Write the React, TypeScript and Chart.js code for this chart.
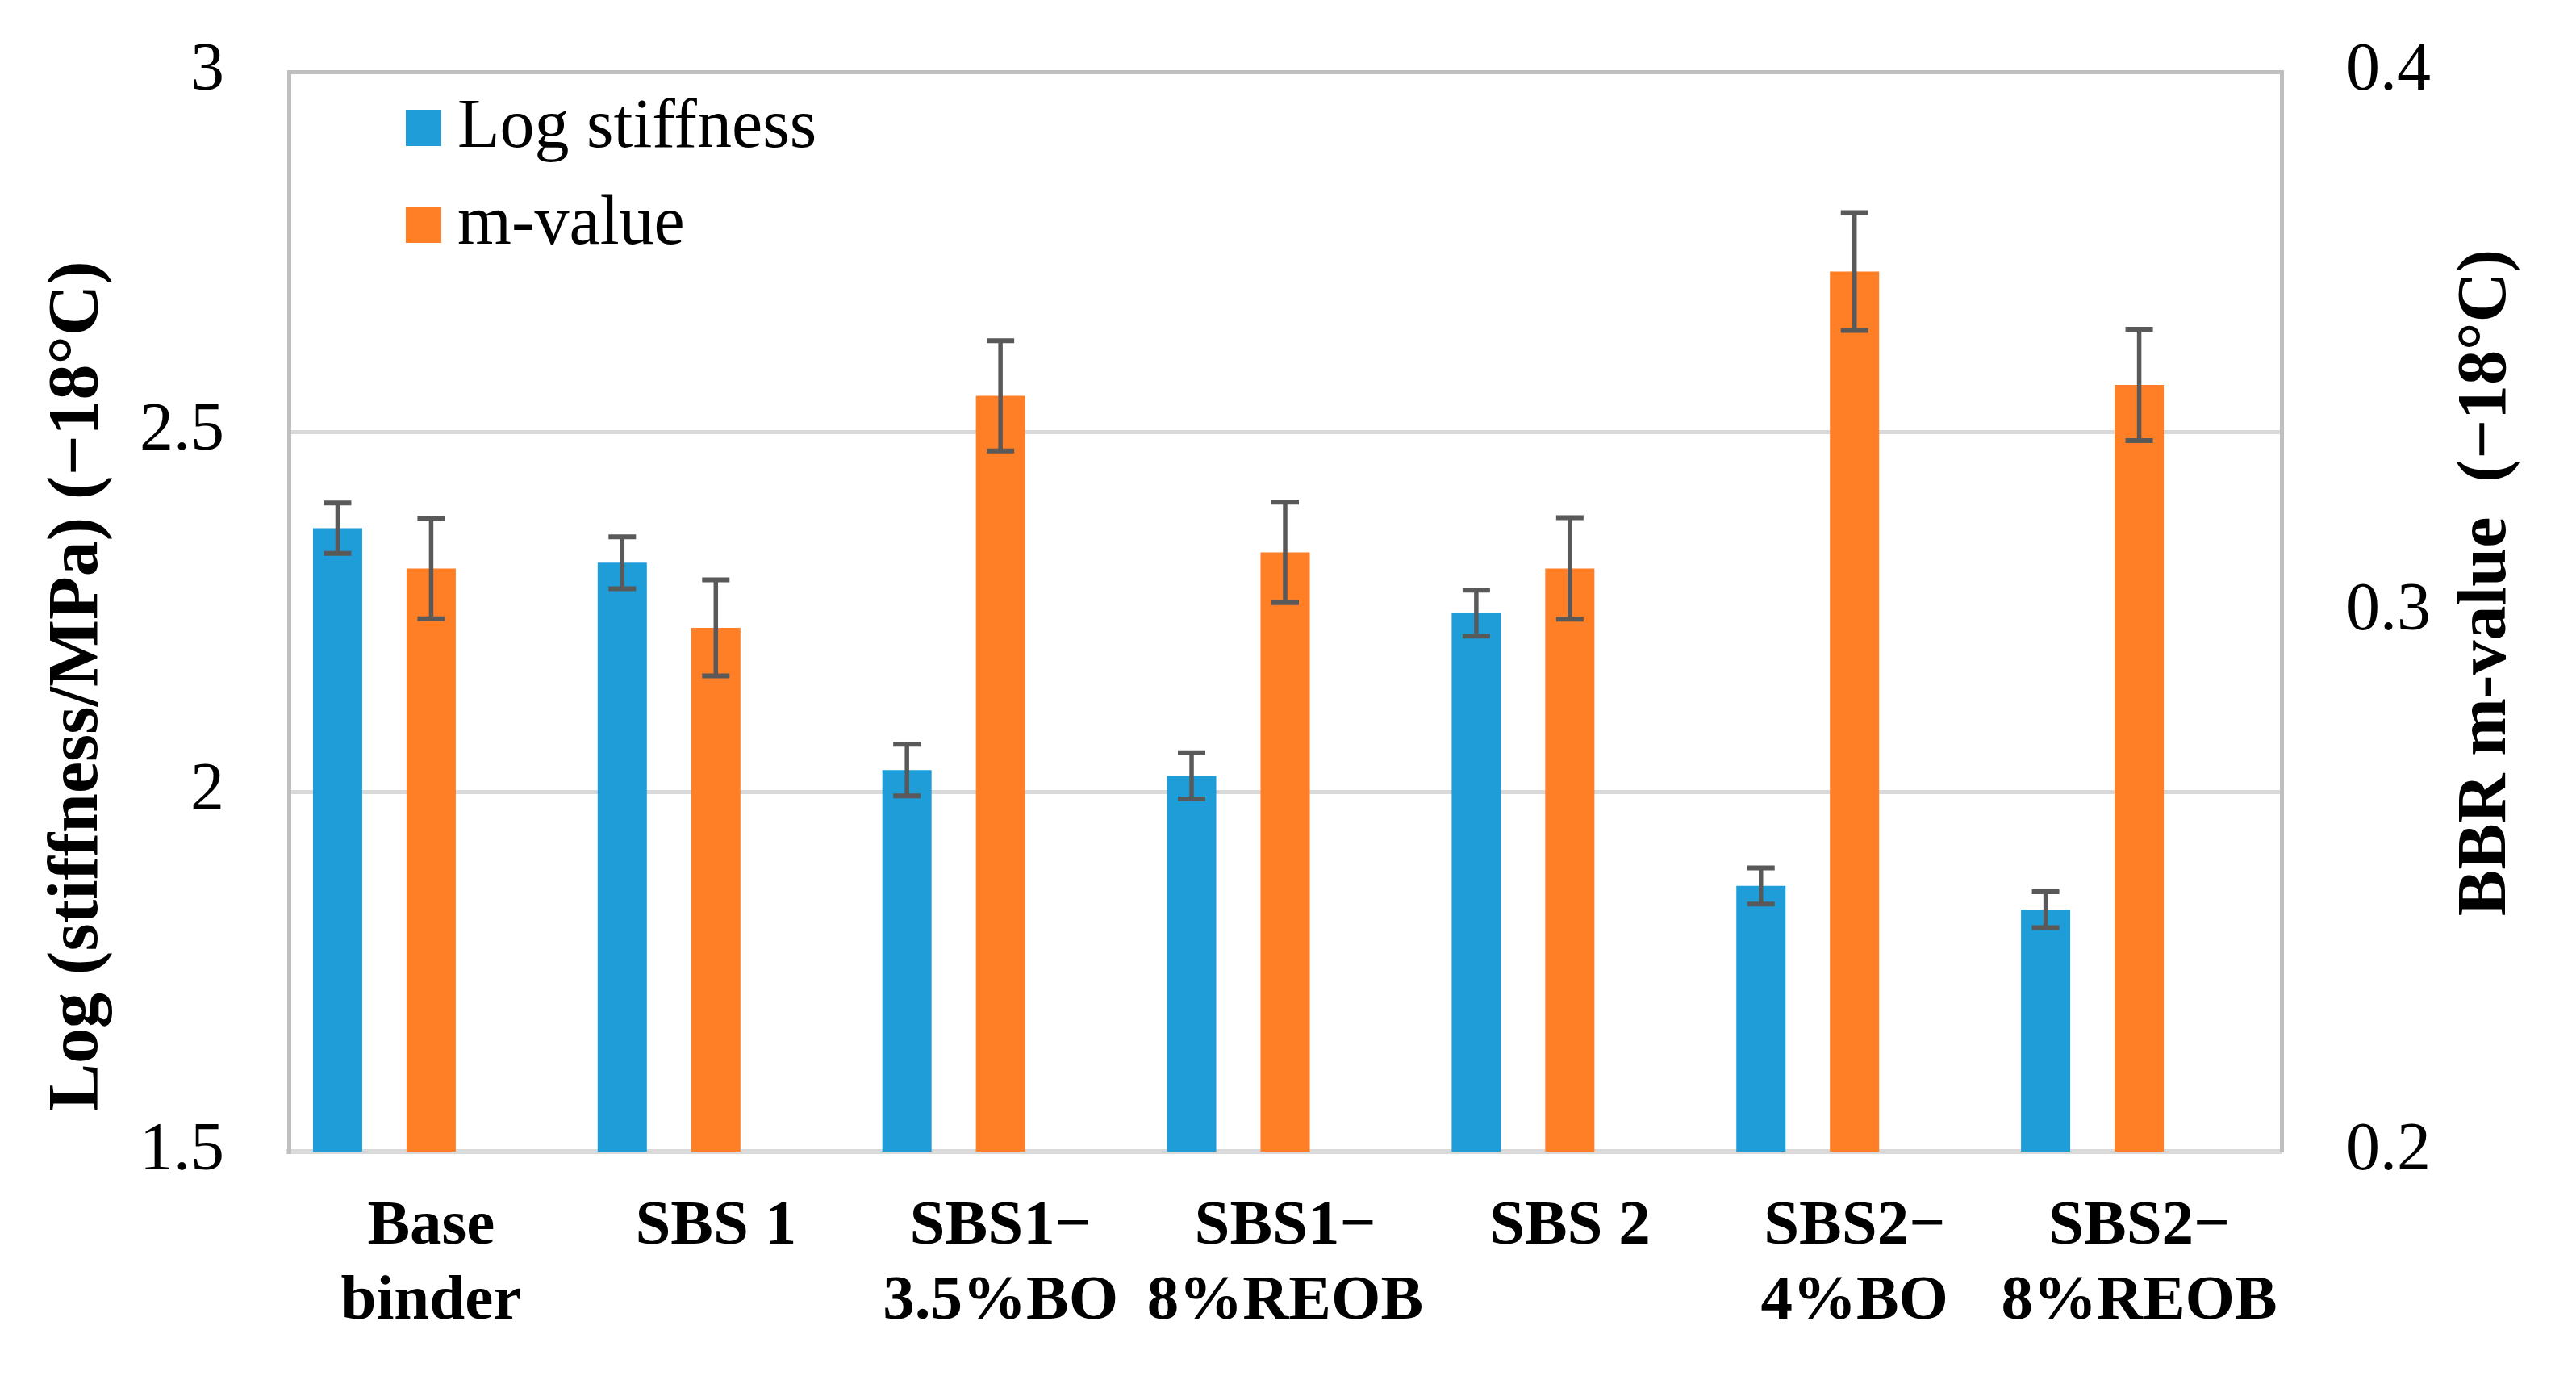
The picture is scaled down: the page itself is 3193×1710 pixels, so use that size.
import React, { useEffect, useRef } from 'react';
import { Chart, registerables } from 'chart.js';

Chart.register(...registerables);

const FONT = "'Liberation Serif', 'Times New Roman', serif";

const categories: string[][] = [
  ['Base', 'binder'],
  ['SBS 1'],
  ['SBS1−', '3.5%BO'],
  ['SBS1−', '8%REOB'],
  ['SBS 2'],
  ['SBS2−', '4%BO'],
  ['SBS2−', '8%REOB'],
];
const seriesLabels = ['Log stiffness', 'm-value'];
const logStiffness = [2.366, 2.318, 2.03, 2.022, 2.248, 1.869, 1.836];
const logStiffnessError = [0.035, 0.036, 0.036, 0.032, 0.032, 0.025, 0.025];
const mValue = [0.308, 0.297, 0.340, 0.311, 0.308, 0.363, 0.342];
const mValueError = [0.0093, 0.0089, 0.0102, 0.0093, 0.0094, 0.0109, 0.0103];
const emptySeries = [null, null, null, null, null, null, null];
const leftTicks = [1.5, 2, 2.5, 3];
const rightTicks = [0.2, 0.3, 0.4];
const leftTitle = 'Log (stiffness/MPa) (−18°C)';
const rightTitle = 'BBR m-value  (−18°C)';

const BLUE = '#1E9DD8';
const ORANGE = '#FF7F27';

const errorBarPlugin = {
  id: 'errorBars',
  afterDatasetsDraw(chart: any) {
    const ctx = chart.ctx;
    chart.data.datasets.forEach((ds: any, di: number) => {
      const errs = ds.errors;
      if (!errs) return;
      const meta = chart.getDatasetMeta(di);
      const scale = chart.scales[meta.yAxisID];
      meta.data.forEach((bar: any, i: number) => {
        const v = ds.data[i];
        const e = errs[i];
        if (v == null || e == null) return;
        const x = bar.x;
        const yTop = scale.getPixelForValue(v + e);
        const yBot = scale.getPixelForValue(v - e);
        ctx.save();
        ctx.strokeStyle = '#595959';
        ctx.lineWidth = 5.5;
        ctx.beginPath();
        ctx.moveTo(x, yTop);
        ctx.lineTo(x, yBot);
        ctx.stroke();
        ctx.lineWidth = 6;
        ctx.beginPath();
        ctx.moveTo(x - 17, yTop);
        ctx.lineTo(x + 17, yTop);
        ctx.moveTo(x - 17, yBot);
        ctx.lineTo(x + 17, yBot);
        ctx.stroke();
        ctx.restore();
      });
    });
  },
};

const legendPlugin = {
  id: 'insideLegend',
  afterDraw(chart: any) {
    const ctx = chart.ctx;
    const a = chart.chartArea;
    let row = 0;
    chart.data.datasets.forEach((ds: any) => {
      if (!ds.label) return;
      const top = a.top + 47 + row * 120;
      ctx.save();
      ctx.fillStyle = ds.backgroundColor;
      ctx.fillRect(a.left + 145, top, 44, 45);
      ctx.fillStyle = '#000';
      ctx.font = `86px ${FONT}`;
      ctx.textBaseline = 'middle';
      ctx.textAlign = 'left';
      ctx.fillText(ds.label, a.left + 209, top + 23);
      ctx.restore();
      row++;
    });
  },
};

const axisTitlePlugin = {
  id: 'axisTitles',
  afterDraw(chart: any) {
    const ctx = chart.ctx;
    const draw = (text: string, x: number, y: number, size: number) => {
      ctx.save();
      ctx.translate(x, y);
      ctx.rotate(-Math.PI / 2);
      ctx.fillStyle = '#000';
      ctx.font = `bold ${size}px ${FONT}`;
      ctx.textAlign = 'center';
      ctx.textBaseline = 'middle';
      ctx.fillText(text, 0, 0);
      ctx.restore();
    };
    draw(leftTitle, 97, 850, 88);
    draw(rightTitle, 3083, 722, 86);
  },
};

export default function App() {
  const canvasRef = useRef<HTMLCanvasElement | null>(null);

  useEffect(() => {
    if (!canvasRef.current) return;
    const chart = new Chart(canvasRef.current, {
      type: 'bar',
      data: {
        labels: categories,
        datasets: [
          {
            label: seriesLabels[0],
            data: logStiffness,
            errors: logStiffnessError,
            backgroundColor: BLUE,
            yAxisID: 'y',
          } as any,
          {
            label: seriesLabels[1],
            data: mValue,
            errors: mValueError,
            backgroundColor: ORANGE,
            yAxisID: 'y1',
          } as any,
          {
            label: '',
            data: emptySeries,
            backgroundColor: 'rgba(0,0,0,0)',
            yAxisID: 'y',
          } as any,
        ],
      },
      options: {
        animation: false,
        responsive: false,
        devicePixelRatio: 1,
        layout: { padding: { top: 89, left: 0, right: 0, bottom: 0 } },
        datasets: {
          bar: { categoryPercentage: 0.986, barPercentage: 0.526 },
        },
        plugins: {
          legend: { display: false },
          tooltip: { enabled: false },
          title: { display: false },
        },
        scales: {
          x: {
            type: 'category',
            grid: { display: false, drawTicks: false },
            border: { display: true, color: '#D9D9D9', width: 6 },
            ticks: {
              autoSkip: false,
              maxRotation: 0,
              minRotation: 0,
              padding: 47,
              color: '#000',
              font: { family: FONT, size: 79, weight: 'bold', lineHeight: 1.18 },
            },
            afterFit: (scale: any) => {
              scale.height = 283;
            },
          },
          y: {
            type: 'linear',
            position: 'left',
            min: 1.5,
            max: 3,
            afterBuildTicks: (scale: any) => {
              scale.ticks = leftTicks.map((v) => ({ value: v }));
            },
            grid: {
              drawTicks: true,
              tickLength: 80,
              tickColor: 'rgba(0,0,0,0)',
              lineWidth: 5,
              color: (c: any) => (c.tick && c.tick.value === 3 ? '#BFBFBF' : '#D9D9D9'),
            },
            border: { display: true, color: '#BFBFBF', width: 5 },
            ticks: {
              padding: 0,
              color: '#000',
              font: { family: FONT, size: 84 },
              callback: (v: any) => String(v),
            },
            afterFit: (scale: any) => {
              scale.width = 358;
            },
          },
          y1: {
            type: 'linear',
            position: 'right',
            min: 0.2,
            max: 0.4,
            afterBuildTicks: (scale: any) => {
              scale.ticks = rightTicks.map((v) => ({ value: v }));
            },
            grid: {
              display: true,
              drawOnChartArea: false,
              drawTicks: true,
              tickLength: 80,
              tickColor: 'rgba(0,0,0,0)',
            },
            border: { display: true, color: '#BFBFBF', width: 5 },
            ticks: {
              padding: 0,
              color: '#000',
              font: { family: FONT, size: 84 },
              callback: (v: any) => String(v),
            },
            afterFit: (scale: any) => {
              scale.width = 365;
            },
          },
        },
      } as any,
      plugins: [errorBarPlugin, legendPlugin, axisTitlePlugin],
    });
    return () => chart.destroy();
  }, []);

  return (
    <div style={{ position: 'absolute', left: 0, top: 0, width: 3193, height: 1710, background: '#fff' }}>
      <canvas ref={canvasRef} width={3193} height={1710} style={{ width: 3193, height: 1710, display: 'block' }} />
    </div>
  );
}
